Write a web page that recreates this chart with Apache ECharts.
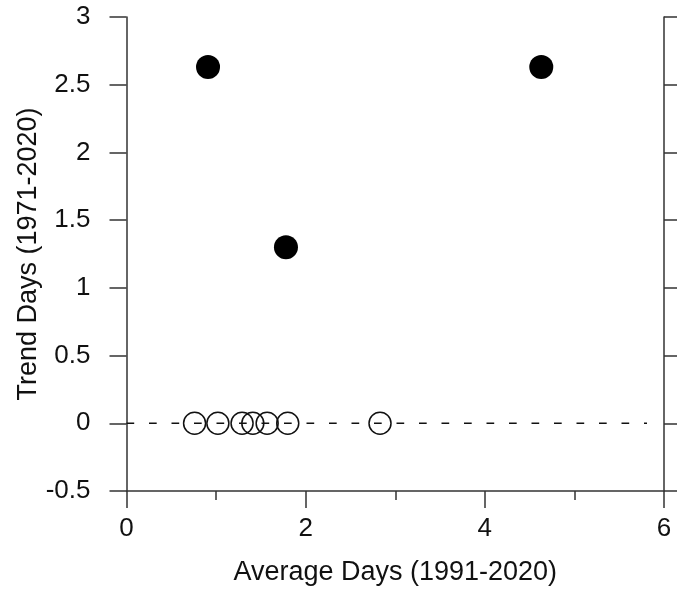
<!DOCTYPE html>
<html>
<head>
<meta charset="utf-8">
<script src="https://cdn.jsdelivr.net/npm/echarts@6/dist/echarts.min.js"></script>
<style>
html,body{margin:0;padding:0;background:#fff;}
#chart{width:677px;height:591px;}
</style>
</head>
<body>
<div id="chart"></div>
<script>
// Data
const filledX = [0.91, 1.78, 4.63];
const filledY = [2.63, 1.30, 2.63];
const hollowX = [0.76, 1.02, 1.29, 1.41, 1.57, 1.80, 2.83];
const hollowY = [0, 0, 0, 0, 0, 0, 0];
const refLineX = [0, 5.81];
const refLineY = [0, 0];
const xTicks = [0, 2, 4, 6];
const yTicks = [-0.5, 0, 0.5, 1, 1.5, 2, 2.5, 3];

const font = '"Liberation Sans", Arial, Helvetica, sans-serif';
const axisColor = '#333';

const chart = echarts.init(document.getElementById('chart'), null, {renderer: 'canvas'});
const zip = (xs, ys) => xs.map((x, i) => [x, ys[i]]);

chart.setOption({
  animation: false,
  backgroundColor: '#fff',
  grid: {left: 126.5, right: 13, top: 17, bottom: 98, containLabel: false},
  xAxis: {
    type: 'value', min: xTicks[0], max: xTicks[xTicks.length - 1], interval: 2,
    name: 'Average Days (1991-2020)', nameLocation: 'middle', nameGap: 68,
    nameMoveOverlap: false,
    nameTextStyle: {fontFamily: font, fontSize: 27, color: '#111'},
    axisLine: {onZero: false, lineStyle: {color: axisColor, width: 1.5}},
    axisTick: {show: true, inside: false, length: 17, lineStyle: {color: axisColor, width: 1.5}},
    minorTick: {show: true, splitNumber: 2, length: 9, lineStyle: {color: axisColor, width: 1.5}},
    axisLabel: {fontFamily: font, fontSize: 26, color: '#111', margin: 25},
    splitLine: {show: false}
  },
  yAxis: [{
    type: 'value', min: yTicks[0], max: yTicks[yTicks.length - 1], interval: 0.5,
    position: 'left',
    name: 'Trend Days (1971-2020)', nameLocation: 'middle', nameGap: 84,
    nameMoveOverlap: false,
    nameTextStyle: {fontFamily: font, fontSize: 27, color: '#111'},
    axisLine: {show: true, onZero: false, lineStyle: {color: axisColor, width: 1.5}},
    axisTick: {show: true, inside: false, length: 17, lineStyle: {color: axisColor, width: 1.5}},
    axisLabel: {fontFamily: font, fontSize: 26, color: '#111', margin: 36},
    splitLine: {show: false}
  }, {
    type: 'value', min: yTicks[0], max: yTicks[yTicks.length - 1], interval: 0.5,
    position: 'right',
    axisLine: {show: true, onZero: false, lineStyle: {color: axisColor, width: 1.5}},
    axisTick: {show: true, inside: false, length: 17, lineStyle: {color: axisColor, width: 1.5}},
    axisLabel: {show: false},
    splitLine: {show: false}
  }],
  series: [{
    type: 'line',
    data: zip(refLineX, refLineY),
    symbol: 'none',
    lineStyle: {color: '#111', width: 1.5, type: [7.7, 14.8]},
    z: 1
  }, {
    type: 'scatter',
    data: zip(hollowX, hollowY),
    symbol: 'circle', symbolSize: 22,
    itemStyle: {color: 'rgba(0,0,0,0)', borderColor: '#111', borderWidth: 1.5, opacity: 1},
    z: 2
  }, {
    type: 'scatter',
    data: zip(filledX, filledY),
    symbol: 'circle', symbolSize: 24,
    itemStyle: {color: '#000', opacity: 1},
    z: 3
  }]
});
</script>
</body>
</html>
